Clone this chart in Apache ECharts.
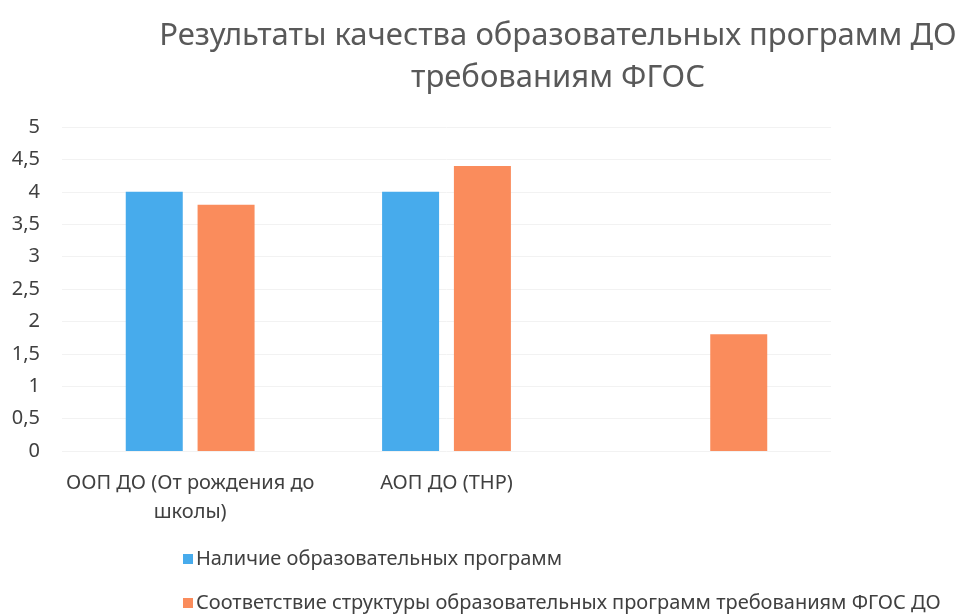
<!DOCTYPE html>
<html>
<head>
<meta charset="utf-8">
<script src="https://cdn.jsdelivr.net/npm/echarts@6/dist/echarts.min.js"></script>
<style>
  html, body { margin: 0; padding: 0; background: #fff; }
  #chart { width: 961px; height: 615px; }
</style>
</head>
<body>
<div id="chart"></div>
<script>
// категории (третья без подписи)
const categories = ['ООП ДО (От рождения до\nшколы)', 'АОП ДО (ТНР)', '']
// Наличие образовательных программ
const presenceValues = [4, 4, null]
// Соответствие структуры программ требованиям ФГОС ДО
const complianceValues = [3.8, 4.4, 1.8]
const seriesNames = [
  'Наличие образовательных программ',
  'Соответствие структуры образовательных программ требованиям ФГОС ДО'
]

const chart = echarts.init(document.getElementById('chart'))
const font = 'Noto Sans'

const option = {
  backgroundColor: '#fff',
  textStyle: { fontFamily: font },
  title: {
    text: 'Результаты качества образовательных программ ДО\nтребованиям ФГОС',
    left: 553,
    top: 10,
    textAlign: 'center',
    textStyle: {
      fontFamily: font,
      fontSize: 31,
      fontWeight: 'normal',
      color: '#595959',
      lineHeight: 42
    }
  },
  grid: {
    left: 62,
    right: 130,
    top: 127,
    bottom: 164
  },
  legend: {
    orient: 'vertical',
    left: 183,
    top: 548,
    padding: 0,
    itemWidth: 10,
    itemHeight: 10,
    itemGap: 22,
    icon: 'rect',
    data: seriesNames,
    textStyle: { fontFamily: font, fontSize: 20, lineHeight: 22, color: '#404040', padding: [0, 0, 0, -2] }
  },
  xAxis: {
    type: 'category',
    data: categories,
    axisLine: { show: false },
    axisTick: { show: false },
    axisLabel: {
      interval: 0,
      margin: 18,
      fontFamily: font,
      fontSize: 20,
      lineHeight: 29,
      color: '#404040'
    }
  },
  yAxis: {
    type: 'value',
    min: 0,
    max: 5,
    interval: 0.5,
    axisLine: { show: false },
    axisTick: { show: false },
    splitLine: { lineStyle: { color: '#f2f2f2', width: 1 } },
    axisLabel: {
      margin: 22,
      fontFamily: font,
      fontSize: 20,
      color: '#404040',
      formatter: v => String(v).replace('.', ',')
    }
  },
  series: [
    {
      name: seriesNames[0],
      type: 'bar',
      data: presenceValues,
      barWidth: 57,
      barGap: '26%',
      itemStyle: { color: '#47ABEC' }
    },
    {
      name: seriesNames[1],
      type: 'bar',
      data: complianceValues,
      barWidth: 57,
      barGap: '26%',
      itemStyle: { color: '#FA8C5C' }
    }
  ]
}

chart.setOption(option)
</script>
</body>
</html>
